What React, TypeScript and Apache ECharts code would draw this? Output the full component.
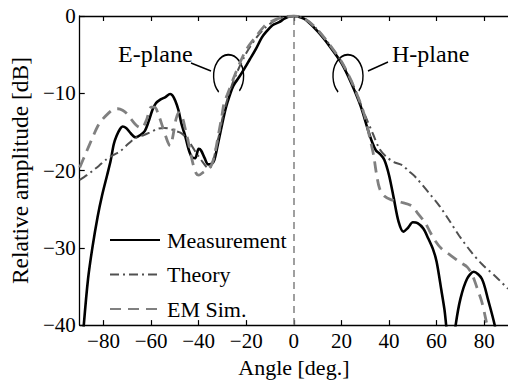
import React, { useEffect, useRef } from "react";
import * as echarts from "echarts";

// Radiation pattern cuts: [angle in degrees, relative amplitude in dB]
const measurement: [number, number][] = [
  [-90, -47], [-88.3, -40], [-86.5, -34], [-84.7, -30], [-82.5, -26], [-80.6, -23.2],
  [-78.5, -20.6], [-77, -18.7], [-75.7, -16.6], [-74.5, -15.5], [-73, -14.6], [-72, -14.3],
  [-70.5, -14.5], [-68.5, -15.2], [-66.5, -15.7], [-64.5, -15.4], [-62.7, -14.9], [-61, -13.6],
  [-59.5, -12.2], [-58, -11.3], [-56, -10.8], [-54, -10.5], [-52, -10.1], [-51, -10.3],
  [-49.8, -11.0], [-48.5, -12.2], [-47.2, -14], [-45.7, -15.5], [-44.3, -17.2], [-43, -18.2],
  [-41.5, -18.4], [-40, -17.2], [-39, -17.4], [-37.5, -18.4], [-36, -19.2], [-34.5, -19.1],
  [-33.4, -18.6], [-32, -16.7], [-30.5, -14.5], [-28.6, -11.9], [-27, -10.3], [-25.4, -9.0],
  [-23, -7.9], [-21, -6.9], [-18.5, -5.6], [-16, -4.3], [-13.5, -2.8], [-11.5, -2.0],
  [-9, -1.2], [-6.2, -0.8], [-4, -0.35], [-2, -0.05], [0, 0], [3, -0.2], [5, -0.5],
  [10, -2.0], [15, -3.9], [20, -6.1], [24, -8.6], [28, -11.6], [31, -14.6], [33, -16.4],
  [34.5, -17.4], [36, -17.8], [38, -18.6], [40, -20.6], [42, -23.6], [44, -26.6], [46, -27.9],
  [48, -27.4], [50, -26.7], [52, -26.8], [54.4, -27.5], [56.5, -28.8], [58.5, -30.2],
  [60, -31.8], [62, -35.5], [63.3, -38], [64, -40], [65, -43], [66, -50], [67, -43],
  [68, -40], [70, -36.6], [72.8, -34], [75.6, -33.1], [79, -34], [81.7, -36.8], [84.4, -40],
  [86, -43],
];

const theory: [number, number][] = [
  [-90, -21.2], [-87, -20.6], [-84.5, -20.0], [-82, -19.4], [-79, -18.6], [-76, -18.0],
  [-73, -17.5], [-70.5, -16.8], [-68, -16.1], [-66, -15.7], [-63, -15.4], [-60.7, -15.1],
  [-57.3, -14.6], [-54.5, -14.5], [-52, -14.6], [-50.5, -14.8], [-47.7, -15.1], [-46, -15.5],
  [-44.3, -16.1], [-42.5, -17.0], [-40.9, -17.8], [-38.8, -18.7], [-36.8, -19.5],
  [-35.5, -19.7], [-34, -18.9], [-32.7, -17.0], [-31, -14.8], [-30, -13.2], [-28, -10.8],
  [-25.4, -8.4], [-22.6, -6.4], [-20, -4.8], [-16, -2.9], [-12, -1.5], [-8, -0.6],
  [-4, -0.15], [0, 0], [5, -0.45], [10, -1.8], [15, -3.7], [20, -5.9], [24, -8.3],
  [26.5, -10.1], [30, -12.9], [33.3, -15.3], [36, -17.2], [38.8, -18.2], [42, -18.9],
  [45.6, -19.3], [48, -20], [51, -20.8], [56.5, -22.8], [61, -24.5], [65.4, -26.5],
  [69.4, -28.4], [74.2, -30.4], [79, -32.1], [85.1, -33.8], [90, -35.3],
];

const emSim: [number, number][] = [
  [-90, -19.6], [-87.5, -17.8], [-85, -16.0], [-82.5, -14.3], [-80.5, -13.4], [-78, -12.6],
  [-76, -12.1], [-74, -12.0], [-72, -12.2], [-70, -12.7], [-68, -13.5], [-66, -14.2],
  [-64, -14.5], [-62, -13.5], [-60, -11.8], [-58.5, -11.8], [-57, -12.7], [-55, -14.5],
  [-53, -16.3], [-52, -16.8], [-51, -15.8], [-49.5, -13.3], [-48.3, -12.5], [-47, -13.0],
  [-45.5, -14.8], [-44, -16.8], [-42.5, -19.0], [-41, -20.4], [-40, -20.6], [-38, -20.2],
  [-36, -19.8], [-34.5, -19.2], [-33, -17.5], [-31.5, -15], [-30.3, -13], [-29.3, -11.2],
  [-28, -10.2], [-25.4, -8.1], [-22.6, -6.0], [-19.9, -4.3], [-15.8, -2.6], [-11.7, -1.1],
  [-8, -0.5], [-4, -0.1], [0, 0], [5, -0.45], [10, -1.8], [15, -3.7], [20, -5.9],
  [24, -8.3], [28, -11.3], [30, -13.2], [32, -15.9], [33.5, -18.0], [34.7, -20.4],
  [36, -22.3], [38, -23.3], [41, -23.8], [45, -24.1], [49.7, -24.6], [52, -25.5],
  [55.1, -26.7], [57, -27.8], [59.2, -29.0], [62, -30.1], [66, -31.0], [70, -31.9],
  [72.9, -32.5], [75, -33.5], [77, -35.2], [79, -37.0], [80.5, -39], [81.5, -40.5],
  [83, -43],
];

const angleTicks = [-80, -60, -40, -20, 0, 20, 40, 60, 80];

const FONT = "Liberation Serif";
const minus = (v: number) => String(v).replace("-", "\u2212");

export default function App() {
  const ref = useRef<HTMLDivElement>(null);

  useEffect(() => {
    if (!ref.current) return;
    const chart = echarts.init(ref.current, undefined, { renderer: "svg" });

    // open elliptical bracket marking a beam cut
    const ellipseArc = (cx: number, cy: number) => ({
      type: "arc",
      x: cx,
      y: cy,
      scaleY: 1.42,
      shape: { cx: 0, cy: 0, r: 15, startAngle: 2.29, endAngle: 0.77 + Math.PI * 2, clockwise: true },
      style: { stroke: "#000", lineWidth: 1.4, fill: "none", strokeNoScale: true },
      silent: true,
    });

    const label = (text: string, x: number) => ({
      type: "text",
      x,
      y: 54,
      silent: true,
      style: {
        text,
        fill: "#000",
        font: `24px ${FONT}`,
        align: "left",
        verticalAlign: "middle",
        textAlign: "left",
        textVerticalAlign: "middle",
      },
    });

    chart.setOption({
      animation: false,
      backgroundColor: "#fff",
      textStyle: { fontFamily: FONT, color: "#000" },
      grid: { left: 72, top: 16, right: -4, bottom: 51, containLabel: false },
      legend: {
        orient: "vertical",
        left: 109,
        top: 229,
        padding: 0,
        itemWidth: 50,
        itemHeight: 14,
        itemGap: 12.5,
        itemStyle: { opacity: 0 },
        textStyle: { fontFamily: FONT, fontSize: 22, color: "#000", padding: [0, 0, 0, 2] },
        data: ["Measurement", "Theory", "EM Sim."],
      },
      xAxis: [
        {
          type: "value",
          position: "bottom",
          min: -90,
          max: 90,
          name: "Angle [deg.]",
          nameLocation: "middle",
          nameGap: 29,
          nameTextStyle: { fontFamily: FONT, fontSize: 22, color: "#000" },
          axisLine: { show: true, onZero: false, lineStyle: { color: "#000", width: 1.3 } },
          axisTick: { show: true, inside: true, length: 5, customValues: angleTicks, lineStyle: { color: "#000", width: 1.2 } },
          axisLabel: {
            customValues: angleTicks,
            formatter: (v: number) => minus(v),
            fontFamily: FONT,
            fontSize: 21,
            color: "#000",
            margin: 5,
          },
          splitLine: { show: false },
        },
        {
          type: "value",
          position: "top",
          min: -90,
          max: 90,
          axisLine: { show: true, onZero: false, lineStyle: { color: "#000", width: 1.3 } },
          axisTick: { show: true, inside: true, length: 5, customValues: angleTicks, lineStyle: { color: "#000", width: 1.2 } },
          axisLabel: { show: false },
          splitLine: { show: false },
        },
      ],
      yAxis: {
        type: "value",
        min: -40,
        max: 0,
        interval: 10,
        name: "Relative amplitude [dB]",
        nameLocation: "middle",
        nameGap: 38,
        nameTextStyle: { fontFamily: FONT, fontSize: 23.5, color: "#000" },
        axisLine: { show: true, onZero: false, lineStyle: { color: "#000", width: 1.3 } },
        axisTick: { show: true, inside: true, length: 5, lineStyle: { color: "#000", width: 1.2 } },
        axisLabel: { formatter: (v: number) => minus(v), fontFamily: FONT, fontSize: 21, color: "#000", margin: 4 },
        splitLine: { show: false },
      },
      series: [
        {
          name: "Measurement",
          type: "line",
          data: measurement,
          smooth: 0.3,
          symbol: "none",
          clip: true,
          lineStyle: { color: "#000", width: 2.6, type: "solid" },
          itemStyle: { color: "#000" },
          markLine: {
            silent: true,
            symbol: "none",
            label: { show: false },
            lineStyle: { color: "#808080", width: 1.5, type: [7, 5] },
            data: [{ xAxis: 0 }],
          },
        },
        {
          name: "Theory",
          type: "line",
          data: theory,
          smooth: 0.3,
          symbol: "none",
          clip: true,
          lineStyle: { color: "#505050", width: 2, type: [9, 4, 2, 4] },
          itemStyle: { color: "#505050" },
        },
        {
          name: "EM Sim.",
          type: "line",
          data: emSim,
          smooth: 0.3,
          symbol: "none",
          clip: true,
          lineStyle: { color: "#808080", width: 2.8, type: [11, 7] },
          itemStyle: { color: "#808080" },
        },
      ],
      graphic: [
        label("E-plane", 118),
        { type: "line", silent: true, shape: { x1: 191, y1: 63, x2: 211, y2: 71 }, style: { stroke: "#000", lineWidth: 1.4 } },
        ellipseArc(228.6, 76),
        label("H-plane", 392),
        { type: "line", silent: true, shape: { x1: 368, y1: 71, x2: 388, y2: 62 }, style: { stroke: "#000", lineWidth: 1.4 } },
        ellipseArc(348, 76),
      ],
    });

    return () => chart.dispose();
  }, []);

  return (
    <div
      ref={ref}
      style={{ position: "absolute", left: 0, top: 0, width: 508, height: 383, background: "#fff" }}
    />
  );
}
